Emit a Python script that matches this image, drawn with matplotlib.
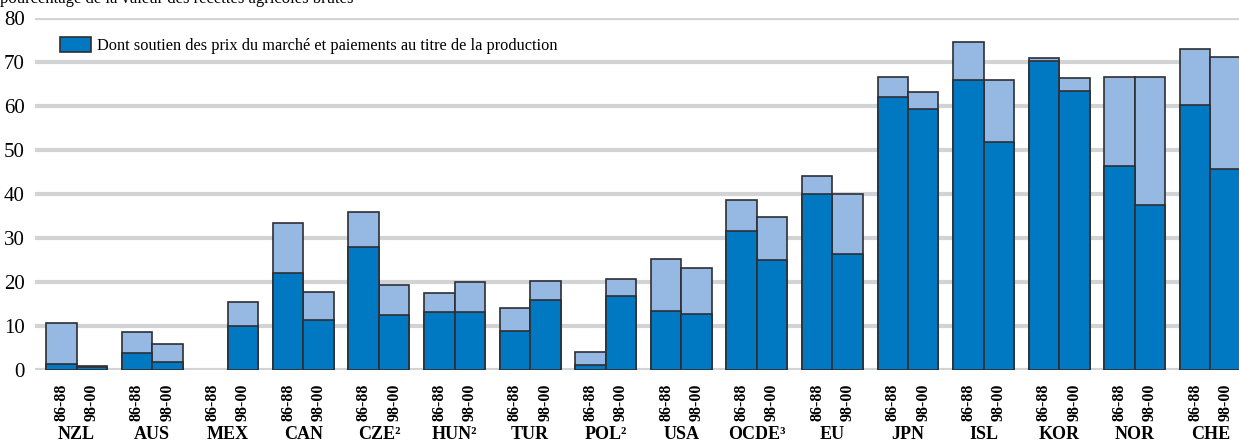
import numpy as np
import matplotlib
matplotlib.use("Agg")
import matplotlib.pyplot as plt
from matplotlib.transforms import blended_transform_factory

plt.rcParams['font.family'] = ['Liberation Serif', 'DejaVu Serif']

countries = ["NZL", "AUS", "MEX", "CAN", "CZE²", "HUN²", "TUR", "POL²", "USA",
             "OCDE³", "EU", "JPN", "ISL", "KOR", "NOR", "CHE"]
periods = ["86-88", "98-00"]

# total PSE (% of gross farm receipts)
total_8688 = [10.6, 8.6, 0.0, 33.4, 36.0, 17.4, 14.0, 4.1, 25.3, 38.6, 44.0, 66.5, 74.5, 71.0, 66.6, 72.9]
total_9800 = [0.8, 5.8, 15.4, 17.8, 19.4, 19.9, 20.3, 20.7, 23.1, 34.8, 40.0, 63.3, 65.9, 66.4, 66.6, 71.2]
# of which market price support and output payments
mps_8688 = [1.4, 3.9, 0.0, 22.0, 28.0, 13.1, 8.9, 1.1, 13.5, 31.7, 40.0, 62.0, 66.0, 70.2, 46.4, 60.3]
mps_9800 = [0.6, 1.8, 10.0, 11.4, 12.4, 13.2, 16.0, 16.8, 12.7, 25.1, 26.3, 59.3, 51.9, 63.4, 37.6, 45.7]

dark = "#0079C2"
light = "#96B9E3"
edge = "#2E2E33"
grid = "#D2D3D5"

fig = plt.figure(figsize=(12.39, 4.42), dpi=100)
ax = fig.add_axes([0.028, 0.163, 0.972, 0.796])

x = np.arange(len(countries))
w = 0.403
x1 = x - w / 2
x2 = x + w / 2

t1 = np.array(total_8688)
t2 = np.array(total_9800)
m1 = np.array(mps_8688)
m2 = np.array(mps_9800)

for xs, tot, mps in [(x1, t1, m1), (x2, t2, m2)]:
    has = tot > 0
    ax.bar(xs[has], tot[has], width=w, color=light, edgecolor=edge, linewidth=1.2, zorder=3)
    ax.bar(xs[has], mps[has], width=w, color=dark, edgecolor=edge, linewidth=1.2, zorder=4,
           label="Dont soutien des prix du marché et paiements au titre de la production")

ax.set_ylim(0, 80)
ax.set_xlim(-0.555, 15.38)
ax.set_yticks(range(0, 81, 10))
ax.yaxis.grid(True, color=grid, linewidth=3, zorder=0)
ax.set_axisbelow(True)
for s in ax.spines.values():
    s.set_visible(False)
ax.tick_params(axis='y', length=0, pad=7, labelsize=15)

ticks = np.sort(np.concatenate([x1, x2]))
ax.set_xticks(ticks)
ax.set_xticklabels(periods * len(countries), rotation=90, fontsize=11.5, fontweight='bold')
ax.tick_params(axis='x', length=0, pad=10)

trans = blended_transform_factory(ax.transData, ax.transAxes)
for xi, name in zip(x, countries):
    ax.text(xi, -0.183, name, transform=trans, ha='center', va='center',
            fontsize=13, fontweight='bold')

handles, labels = ax.get_legend_handles_labels()
leg = ax.legend(handles[:1], labels[:1], loc='upper left', bbox_to_anchor=(0.013, 0.975),
                frameon=False, fontsize=11.8, handlelength=1.9, handleheight=1.1,
                handletextpad=0.35, borderaxespad=0.2)

fig.text(0.0, 1.003, "pourcentage de la valeur des recettes agricoles brutes",
         ha='left', va='center', fontsize=12)

fig.savefig("out.png", dpi=100)
